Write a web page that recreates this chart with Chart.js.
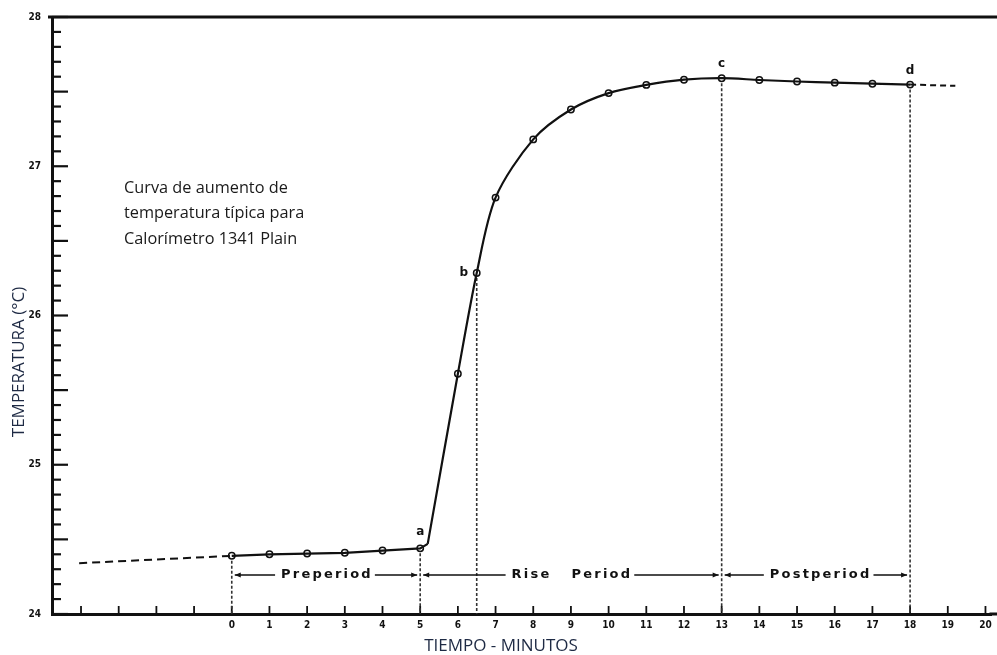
<!DOCTYPE html>
<html>
<head>
<meta charset="utf-8">
<style>
  html, body { margin: 0; padding: 0; background: #fff; }
  #wrap { width: 997px; height: 655px; }
</style>
<script src="https://cdn.jsdelivr.net/npm/chart.js@4.4.1/dist/chart.umd.min.js"></script>
</head>
<body>
<div id="wrap"><canvas id="riseChart" width="997" height="655"></canvas></div>
<script>
// minutes and temperatures
const preMinutes = [0, 1, 2, 3, 4, 5, 5.2];
const preTemps = [24.39, 24.40, 24.405, 24.41, 24.425, 24.44, 24.47];
const riseMinutes = [5.2, 6, 6.5, 7, 8, 9, 10, 11, 12, 13, 14, 15, 16, 17, 18];
const riseTemps = [24.47, 25.61, 26.285, 26.79, 27.18, 27.38, 27.49, 27.545, 27.58, 27.59, 27.578, 27.568, 27.56, 27.553, 27.547];
const markMinutes = [0, 1, 2, 3, 4, 5, 6, 6.5, 7, 8, 9, 10, 11, 12, 13, 14, 15, 16, 17, 18];
const leadMinutes = [-4.05, 0];
const leadTemps = [24.34, 24.39];
const tailMinutes = [18, 19.2];
const tailTemps = [27.547, 27.539];
const xTicks = [-4, -3, -2, -1, 0, 1, 2, 3, 4, 5, 6, 7, 8, 9, 10, 11, 12, 13, 14, 15, 16, 17, 18, 19, 20];
const yTicks = [24, 25, 26, 27, 28];
// point letters and the minutes they sit on
const pointLetters = ['a', 'b', 'c', 'd'];
const letterMinutes = [5, 6.5, 13, 18];
// periods: start, end, label
const periodStarts = [0, 5, 13];
const periodEnds = [5, 13, 18];
const periodNames = ['Preperiod', 'Rise   Period', 'Postperiod'];
const periodCenters = [2.5, 9, 15.6];

function pts(xs, ys) { return xs.map((x, i) => ({x: x, y: ys[i]})); }
function tempAt(m) {
  let all = pts(preMinutes, preTemps).concat(pts(riseMinutes, riseTemps));
  for (const p of all) if (p.x === m) return p.y;
  return null;
}

const ink = '#111';
const tickFont = { family: '"DejaVu Sans Condensed", "DejaVu Sans", sans-serif', weight: 'bold', size: 10 };

const decor = {
  id: 'decor',
  beforeDatasetsDraw(chart) {
    const {ctx, chartArea: a, scales: {x, y}} = chart;
    ctx.save();
    // frame: top line and axis run on to the page edge
    ctx.strokeStyle = ink;
    ctx.lineWidth = 3;
    ctx.beginPath();
    ctx.moveTo(a.left - 4, a.top);
    ctx.lineTo(chart.width, a.top);
    ctx.moveTo(a.right - 2, a.bottom);
    ctx.lineTo(chart.width, a.bottom);
    ctx.stroke();
    // inward y ticks every 0.1
    ctx.lineWidth = 2.2;
    for (let k = 0; k <= 40; k++) {
      const v = 24 + k / 10;
      const py = y.getPixelForValue(v);
      const len = (k % 5 === 0) ? 16 : 9;
      ctx.beginPath();
      ctx.moveTo(a.left, py);
      ctx.lineTo(a.left + len, py);
      ctx.stroke();
    }
    // upward x ticks
    ctx.lineWidth = 1.8;
    for (const m of xTicks) {
      const px = x.getPixelForValue(m);
      ctx.beginPath();
      ctx.moveTo(px, a.bottom);
      ctx.lineTo(px, a.bottom - 8);
      ctx.stroke();
    }
    // dotted drop lines
    ctx.lineWidth = 1.6;
    ctx.setLineDash([3, 2]);
    ctx.strokeStyle = '#333';
    const drops = [0, 5, 6.5, 13, 18];
    for (const m of drops) {
      const px = x.getPixelForValue(m);
      ctx.beginPath();
      ctx.moveTo(px, y.getPixelForValue(tempAt(m)));
      ctx.lineTo(px, a.bottom);
      ctx.stroke();
    }
    ctx.setLineDash([]);
    // period arrows
    const rowY = 575;
    ctx.font = 'bold 13px "DejaVu Sans", sans-serif';
    ctx.letterSpacing = '2.2px';
    ctx.textBaseline = 'middle';
    ctx.textAlign = 'center';
    ctx.fillStyle = ink;
    ctx.strokeStyle = ink;
    ctx.lineWidth = 1.5;
    for (let i = 0; i < periodNames.length; i++) {
      const x0 = x.getPixelForValue(periodStarts[i]) + 3;
      const x1 = x.getPixelForValue(periodEnds[i]) - 3;
      const cx = x.getPixelForValue(periodCenters[i]);
      const w = ctx.measureText(periodNames[i]).width;
      ctx.fillText(periodNames[i], cx + 1, rowY);
      ctx.beginPath();
      ctx.moveTo(x0, rowY); ctx.lineTo(cx - w / 2 - 5, rowY);
      ctx.moveTo(cx + w / 2 + 3, rowY); ctx.lineTo(x1, rowY);
      ctx.stroke();
      ctx.beginPath();
      ctx.moveTo(x0, rowY); ctx.lineTo(x0 + 6, rowY - 2.5); ctx.lineTo(x0 + 6, rowY + 2.5); ctx.closePath();
      ctx.moveTo(x1, rowY); ctx.lineTo(x1 - 6, rowY - 2.5); ctx.lineTo(x1 - 6, rowY + 2.5); ctx.closePath();
      ctx.fill();
    }
    ctx.letterSpacing = '0px';
    // point letters
    ctx.font = 'bold 12px "DejaVu Sans", sans-serif';
    const offs = [[0, -16], [-13, 0], [0, -14], [0, -14]];
    for (let i = 0; i < pointLetters.length; i++) {
      const m = letterMinutes[i];
      ctx.fillText(pointLetters[i], x.getPixelForValue(m) + offs[i][0], y.getPixelForValue(tempAt(m)) + offs[i][1]);
    }
    // note text
    ctx.font = '16.3px "Open Sans", sans-serif';
    ctx.textAlign = 'left';
    ctx.fillStyle = '#1a1a1a';
    ctx.fillText('Curva de aumento de', 124, 188);
    ctx.fillText('temperatura típica para', 124, 213);
    ctx.fillText('Calorímetro 1341 Plain', 124, 239);
    // axis titles
    ctx.font = '17px "Open Sans", sans-serif';
    ctx.fillStyle = '#1e2a44';
    ctx.textAlign = 'center';
    ctx.fillText('TIEMPO - MINUTOS', 501, 646);
    ctx.translate(19, 362);
    ctx.rotate(-Math.PI / 2);
    ctx.fillText('TEMPERATURA (°C)', 0, 0);
    ctx.restore();
  }
};

new Chart(document.getElementById('riseChart').getContext('2d'), {
  type: 'scatter',
  data: {
    datasets: [
      {
        data: pts(leadMinutes, leadTemps), showLine: true, borderColor: ink, borderWidth: 2,
        borderDash: [8, 5], pointRadius: 0
      },
      {
        data: pts(preMinutes, preTemps), showLine: true, borderColor: ink, borderWidth: 2.2,
        pointRadius: 0, tension: 0
      },
      {
        data: pts(riseMinutes, riseTemps), showLine: true, borderColor: ink, borderWidth: 2.2,
        pointRadius: 0, tension: 0.3
      },
      {
        data: pts(tailMinutes, tailTemps), showLine: true, borderColor: ink, borderWidth: 2,
        borderDash: [6, 4], pointRadius: 0
      },
      {
        data: markMinutes.map(m => ({x: m, y: tempAt(m)})), showLine: false,
        pointRadius: 3.2, pointBorderWidth: 1.5, pointBorderColor: ink, pointBackgroundColor: '#fff'
      }
    ]
  },
  options: {
    responsive: false,
    animation: false,
    layout: { padding: { top: 13, right: 0, left: 0, bottom: 0 } },
    plugins: { legend: { display: false }, tooltip: { enabled: false } },
    scales: {
      x: {
        type: 'linear', min: -4.77, max: 20.16,
        afterFit(s) { s.height = 41; },
        afterBuildTicks(s) { s.ticks = xTicks.map(v => ({value: v})); },
        grid: { display: false, drawTicks: false },
        border: { display: true, color: ink, width: 3 },
        ticks: {
          padding: 5, color: ink, maxRotation: 0, autoSkip: false, font: tickFont,
          callback: v => (v >= 0) ? String(v) : ''
        }
      },
      y: {
        type: 'linear', min: 24, max: 28,
        afterFit(s) { s.width = 52; },
        afterBuildTicks(s) { s.ticks = yTicks.map(v => ({value: v})); },
        grid: { display: false, drawTicks: false },
        border: { display: true, color: ink, width: 3 },
        ticks: { padding: 11, color: ink, font: tickFont }
      }
    }
  },
  plugins: [decor]
});
</script>
</body>
</html>
